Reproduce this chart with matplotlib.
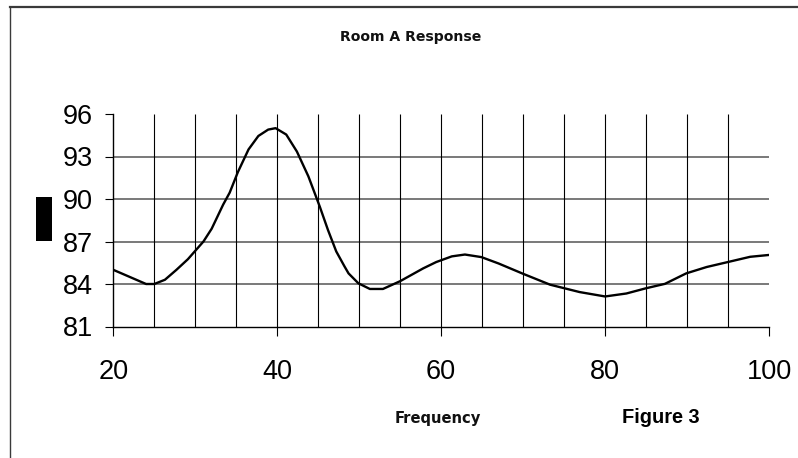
import matplotlib
matplotlib.use("Agg")
import matplotlib.pyplot as plt
from matplotlib.patches import Rectangle
from matplotlib.lines import Line2D
import numpy as np

# Data
freq = [20, 24, 25, 26.3, 27.7, 29.1, 31.0, 32.0, 33.4, 34.2, 35.2, 36.5, 37.7,
        38.9, 39.8, 41.1, 42.4, 43.8, 45.2, 46.2, 47.2, 48.2, 48.7, 49.9, 51.3,
        52.9, 55.0, 57.8, 59.4, 61.3, 62.9, 64.9, 67.0, 70.0, 73.3, 76.9, 80.0,
        82.6, 85.0, 87.3, 89.9, 92.4, 95.2, 97.7, 100]
response = [85.0, 84.0, 84.0, 84.3, 85.0, 85.75, 87.0, 87.9, 89.6, 90.45, 91.9,
            93.5, 94.45, 94.9, 95.0, 94.55, 93.35, 91.6, 89.45, 87.8, 86.3, 85.25,
            84.75, 84.05, 83.65, 83.65, 84.2, 85.1, 85.55, 85.95, 86.08, 85.9,
            85.45, 84.72, 83.95, 83.43, 83.12, 83.33, 83.7, 84.01, 84.75, 85.2,
            85.58, 85.92, 86.05]
x_ticks = [20, 40, 60, 80, 100]
y_ticks = [81, 84, 87, 90, 93, 96]
x_grid = [25, 30, 35, 40, 45, 50, 55, 60, 65, 70, 75, 80, 85, 90, 95]
y_grid = [84, 87, 90, 93]

title = "Room A Response"
xlabel = "Frequency"
fig_label = "Figure 3"

W, H = 798, 458
fig = plt.figure(figsize=(W / 100, H / 100), dpi=100)
fig.patch.set_facecolor("white")

L, R, T, B = 113.3, 769.0, 114.0, 326.5
ax = fig.add_axes([L / W, 1 - B / H, (R - L) / W, (B - T) / H])
ax.set_xlim(20, 100)
ax.set_ylim(81, 96)

for s in ["top", "right"]:
    ax.spines[s].set_visible(False)
for s in ["left", "bottom"]:
    ax.spines[s].set_color("black")
    ax.spines[s].set_linewidth(1.0)

ax.hlines(y_grid, 20, 100, colors="#6e6e6e", linewidth=1.3, zorder=1)
ax.vlines(x_grid, 81, 96, colors="black", linewidth=0.8, zorder=1)

ax.plot(freq, response, color="black", linewidth=1.7, zorder=3,
        solid_joinstyle="round")

tick_font = ["Liberation Sans Narrow", "Liberation Sans", "DejaVu Sans"]
ax.set_xticks(x_ticks)
ax.set_xticklabels([str(v) for v in x_ticks], family=tick_font, fontsize=19.5)
ax.set_yticks(y_ticks)
ax.set_yticklabels([str(v) for v in y_ticks], family=tick_font, fontsize=19.5)
ax.tick_params(axis="x", direction="out", length=6.5, width=0.8, pad=17,
               color="black")
ax.tick_params(axis="y", direction="out", length=5.8, width=0.8, pad=9,
               color="black")

fig.text(411 / W, 1 - 40.7 / H, title, ha="center", va="baseline",
         fontsize=10.1, fontweight="bold", family="DejaVu Sans", color="#111111")
fig.text(438 / W, 1 - 422.7 / H, xlabel, ha="center", va="baseline",
         fontsize=10.6, fontweight="bold", family="DejaVu Sans", color="#111111")
fig.text(661 / W, 1 - 422.7 / H, fig_label, ha="center", va="baseline",
         fontsize=14.4, fontweight="bold",
         family=["Liberation Sans", "DejaVu Sans"], color="black")

# black block on the left (y-axis title placeholder)
fig.patches.append(Rectangle((36 / W, 1 - 241 / H), 16 / W, 44 / H,
                             transform=fig.transFigure, facecolor="black",
                             edgecolor="none"))

# outer border (top and left visible)
fig.lines.append(Line2D([9.5 / W, 1.0], [1 - 7.3 / H, 1 - 7.3 / H],
                        transform=fig.transFigure, color="#3a3a3a", linewidth=1.6))
fig.lines.append(Line2D([9.5 / W, 9.5 / W], [1 - 7.3 / H, 0.0],
                        transform=fig.transFigure, color="#3a3a3a", linewidth=1.0))

fig.savefig("out.png", dpi=100)
